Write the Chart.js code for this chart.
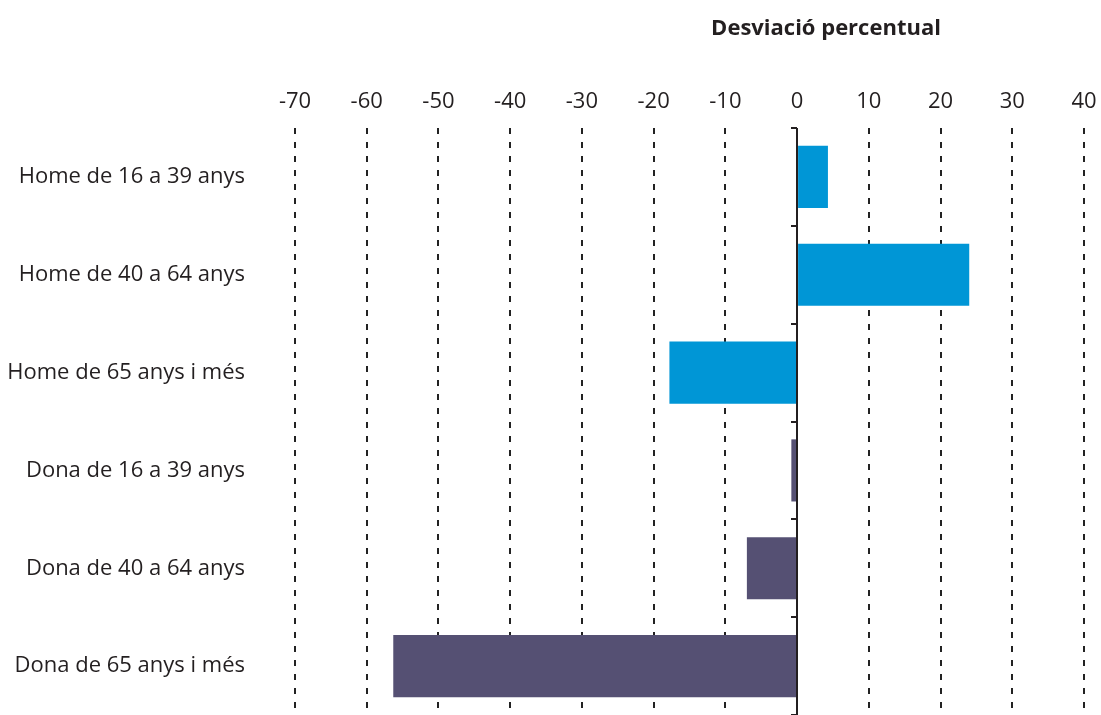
<!DOCTYPE html>
<html>
<head>
<meta charset="utf-8">
<script src="https://cdn.jsdelivr.net/npm/chart.js@4.4.0/dist/chart.umd.min.js"></script>
<style>
    html, body { margin: 0; padding: 0; background: #fff; overflow: hidden; }
    canvas { display: block; }
</style>
</head>
<body>
<canvas id="deviationChart" width="1101" height="715"></canvas>
<script>
// Data
const categories = [
    'Home de 16 a 39 anys',
    'Home de 40 a 64 anys',
    'Home de 65 anys i més',
    'Dona de 16 a 39 anys',
    'Dona de 40 a 64 anys',
    'Dona de 65 anys i més'
];
const deviation = [4.3, 24.0, -17.8, -0.8, -7.0, -56.3];
const barColors = ['#0096d6', '#0096d6', '#0096d6', '#555073', '#555073', '#555073'];
const xMin = -70;
const xMax = 40;
const xStep = 10;
const chartTitle = 'Desviació percentual';

const textColor = '#231f20';
const fontFamily = '"Open Sans", "Noto Sans", sans-serif';

/**
 * Solid zero line with small ticks at category boundaries, plus the title
 */
const zeroLinePlugin = {
    id: 'zeroLine',
    afterDatasetsDraw(chart) {
        const ctx = chart.ctx;
        const x = chart.scales.x;
        const y = chart.scales.y;
        const x0 = Math.round(x.getPixelForValue(0));
        ctx.save();
        ctx.strokeStyle = textColor;
        ctx.lineWidth = 2;
        ctx.beginPath();
        ctx.moveTo(x0, chart.chartArea.top);
        ctx.lineTo(x0, chart.chartArea.bottom);
        for (let i = 0; i <= categories.length; i++) {
            const py = Math.round(y.getPixelForValue(i - 0.5));
            ctx.moveTo(x0 - 6, py);
            ctx.lineTo(x0, py);
        }
        ctx.stroke();
        ctx.restore();
    },
    afterDraw(chart) {
        const ctx = chart.ctx;
        ctx.save();
        ctx.fillStyle = textColor;
        ctx.font = 'bold 22px ' + fontFamily;
        ctx.textAlign = 'center';
        ctx.textBaseline = 'middle';
        ctx.fillText(chartTitle, 826, 29);
        ctx.restore();
    }
};

function createDeviationChart() {
    const ctx = document.getElementById('deviationChart');
    if (!ctx) return;

    return new Chart(ctx, {
        type: 'bar',
        data: {
            labels: categories,
            datasets: [{
                data: deviation,
                backgroundColor: barColors,
                borderWidth: 0,
                barPercentage: 0.635,
                categoryPercentage: 1
            }]
        },
        options: {
            indexAxis: 'y',
            responsive: false,
            animation: false,
            layout: {
                padding: { top: 80, right: 17, bottom: 0, left: 0 }
            },
            plugins: {
                legend: { display: false },
                tooltip: { enabled: false }
            },
            scales: {
                x: {
                    position: 'top',
                    min: xMin,
                    max: xMax,
                    afterFit: function(scale) {
                        scale.height = 48;
                        scale.paddingLeft = 0;
                        scale.paddingRight = 0;
                    },
                    ticks: {
                        stepSize: xStep,
                        color: textColor,
                        padding: 13,
                        font: { family: fontFamily, size: 22 }
                    },
                    grid: {
                        drawTicks: false,
                        lineWidth: 2,
                        color: function(context) {
                            return context.tick && context.tick.value === 0 ? 'rgba(0,0,0,0)' : '#222';
                        }
                    },
                    border: {
                        display: false,
                        dash: [6, 8]
                    }
                },
                y: {
                    afterFit: function(scale) {
                        scale.width = 295;
                        scale.paddingTop = 0;
                        scale.paddingBottom = 0;
                    },
                    ticks: {
                        color: textColor,
                        padding: 50,
                        font: { family: fontFamily, size: 22 }
                    },
                    grid: { display: false, drawTicks: false },
                    border: { display: false }
                }
            }
        },
        plugins: [zeroLinePlugin]
    });
}

createDeviationChart();
</script>
</body>
</html>
